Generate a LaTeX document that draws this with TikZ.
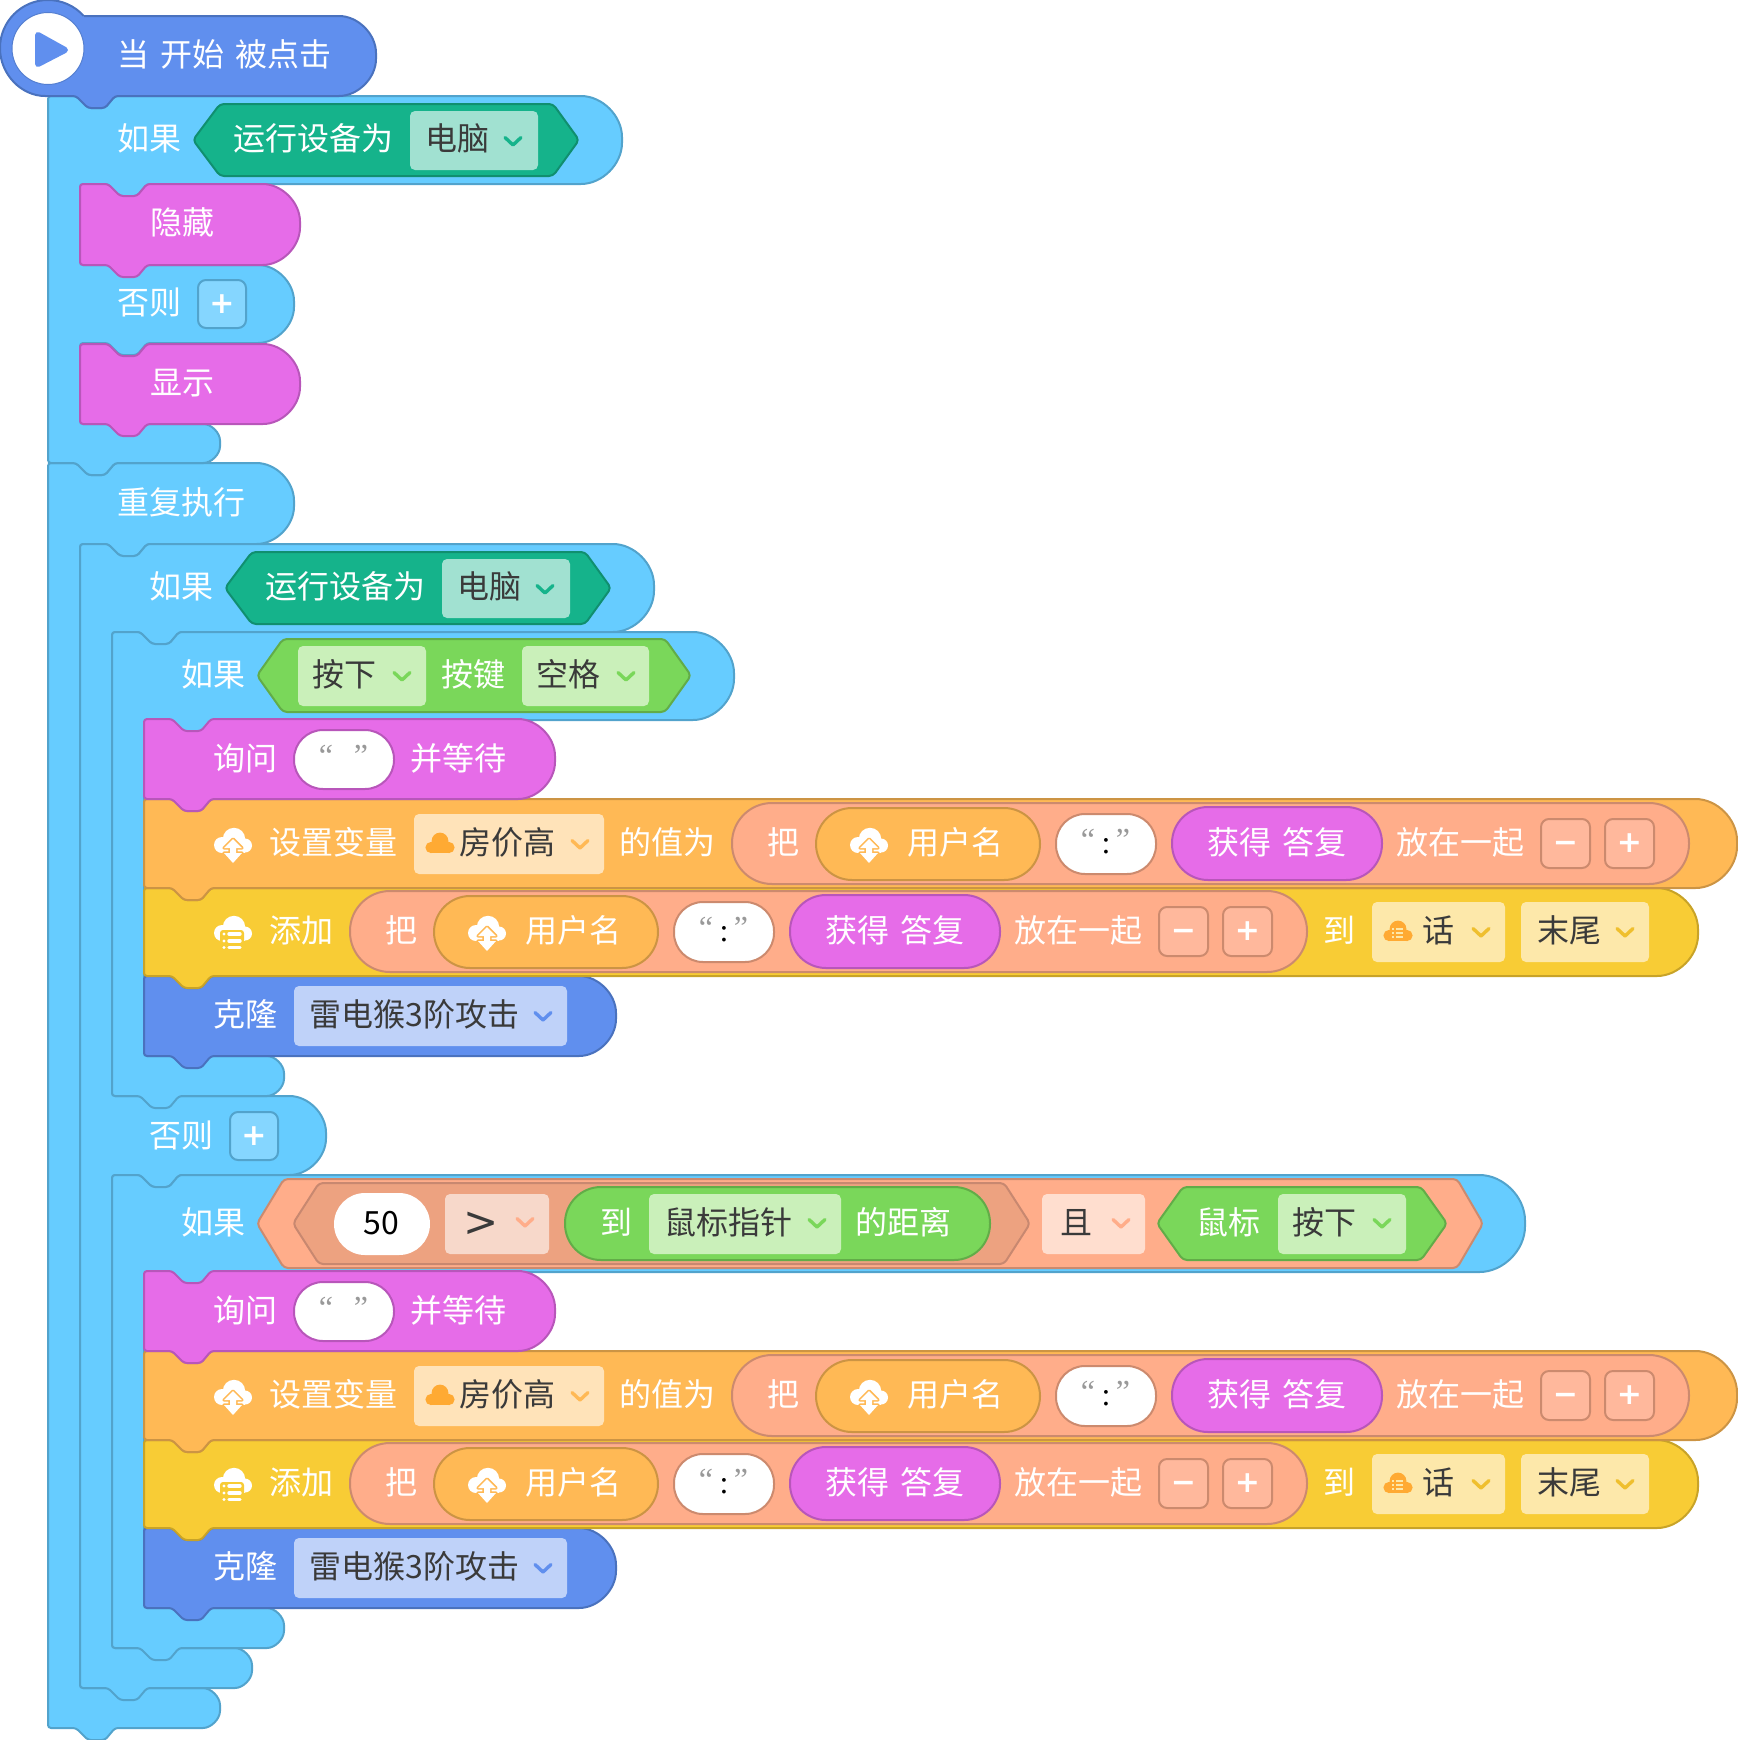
\documentclass[tikz,border=0pt]{standalone}
\usepackage{fontspec}
\newfontfamily\cjk{Noto Sans CJK SC}
\newfontfamily\dvs{DejaVu Sans}
\newfontfamily\lsr{Liberation Serif}
\definecolor{hatc}{HTML}{608FEE}\definecolor{hatb}{HTML}{4A72BE}
\definecolor{sky}{HTML}{66CCFF}\definecolor{skyb}{HTML}{52A3CC}
\definecolor{pinkc}{HTML}{E66CE8}\definecolor{pinkb}{HTML}{B856BA}
\definecolor{orangec}{HTML}{FFB955}\definecolor{orangeb}{HTML}{CC9444}
\definecolor{yel}{HTML}{F8CC35}\definecolor{yelb}{HTML}{C8A328}
\definecolor{salm}{HTML}{FFAD8A}\definecolor{salmb}{HTML}{CC8A6E}
\definecolor{grn}{HTML}{7AD75A}\definecolor{grnb}{HTML}{62AC48}
\definecolor{teal2}{HTML}{15B38B}\definecolor{tealb}{HTML}{108F6F}
\definecolor{ddteal}{HTML}{A1E1D1}\definecolor{ddgrn}{HTML}{CAF0BA}
\definecolor{ddorange}{HTML}{FFE3B9}\definecolor{ddyel}{HTML}{FDE8AA}
\definecolor{ddblue}{HTML}{BFD2F9}\definecolor{ddsalm}{HTML}{FFDECF}
\definecolor{ddsalmb}{HTML}{F7D8CA}\definecolor{inhex}{HTML}{EDA280}
\definecolor{inhexb}{HTML}{C88870}\definecolor{btns}{HTML}{FFB89C}
\definecolor{btnb}{HTML}{85D6FF}\definecolor{ink}{HTML}{3A3A3A}
\definecolor{quotec}{HTML}{999999}\definecolor{cloudc}{HTML}{FFAA33}
\definecolor{chevy}{HTML}{EFBF2E}
\tikzset{
 lbl/.style={anchor=west,inner sep=0pt,text height=14pt,text depth=2pt,font=\cjk\fontsize{16}{16}\selectfont},
 blk/.style n args={2}{fill=#1,draw=#2,line width=1pt,rounded corners=1.5pt,line join=round}
}
\newcounter{nd}
\newcommand\Lb[4][white]{\stepcounter{nd}\node[lbl,text=#1] (n\thend) at ({#2-0.5},#3) {#4};}
\newcommand\Wsp{ \hspace{1.8pt}}
\newcommand\Qt[3]{\stepcounter{nd}\node[anchor=base,inner sep=0pt,text=quotec,font=\lsr\fontsize{16}{16}\selectfont] (n\thend) at (#1,{#2+18}) {#3};}
\newcommand\Colon[2]{\stepcounter{nd}\node[anchor=base,inner sep=0pt,text=black,font=\lsr\fontsize{16}{16}\selectfont] (n\thend) at (#1,{#2+9}) {:};}
\newcommand\NotchT[2]{ -- ({#1+28},{#2}) -- ({#1+40},{#2+12}) -- ({#1+57},{#2+12}) -- ({#1+67},{#2}) }
\newcommand\BumpB[2]{ -- ({#1+67},{#2}) -- ({#1+57},{#2+12}) -- ({#1+40},{#2+12}) -- ({#1+28},{#2}) }
\newcommand\CapR[3]{ -- ({#1-(#3-#2)/2},{#2}) .. controls ({#1-(#3-#2)*.225},{#2}) and ({#1},{#2+(#3-#2)*.225}) .. ({#1},{(#2+#3)/2}) .. controls ({#1},{#3-(#3-#2)*.225}) and ({#1-(#3-#2)*.225},{#3}) .. ({#1-(#3-#2)/2},{#3}) }
\newcommand\Stack[6]{\draw[blk={#5}{#6}] (#1,#2) \NotchT{#1}{#2} \CapR{#3}{#2}{#4} \BumpB{#1}{#4} -- (#1,#4) -- cycle;}
\newcommand\Hex[8]{\draw[fill=#7,draw=#8,line width=1pt,rounded corners=2pt,line join=round] (#1,{(#5+#6)/2}) -- (#2,#5) -- (#3,#5) -- (#4,{(#5+#6)/2}) -- (#3,#6) -- (#2,#6) -- cycle;}
\newcommand\Dd[5]{\fill[#5,rounded corners=2.5pt] (#1,#2) rectangle (#3,#4);}
\newcommand\Chev[3]{\draw[#3,line width=1.7pt,line cap=round,line join=round] ({#1-8},{#2-3.5}) -- (#1,{#2+4}) -- ({#1+8},{#2-3.5});}
\newcommand\Pill[7]{\draw[fill=#5,draw=#6,line width=1pt,rounded corners=#7pt] (#1,#2) rectangle (#3,#4);}
\newcommand\Btn[6]{\draw[fill=#5,draw=#6,line width=1pt,rounded corners=4pt] (#1,#2) rectangle (#3,#4);}
\newcommand\Sym[3]{\stepcounter{nd}\node[anchor=base,inner sep=0pt,text=white,font=\dvs\bfseries\fontsize{15}{15}\selectfont] (n\thend) at (#1,{#2+9.4}) {#3};}
\newcommand\CloudShape{\fill[white] (1,-3) circle[radius=5.6pt] (-11,3) circle[radius=4pt] (12,3.5) circle[radius=3.5pt];\fill[white] (-11,0) rectangle (12,10.5);}
\newcommand\CloudUp[3]{\begin{scope}[shift={(#1,#2)}]\CloudShape
 \path[draw=#3,line width=1.6pt,line join=round] (-9,6) -- (0,-3) -- (9,6) -- (3,6) -- (3,11) -- (9,11) -- (0,21) -- (-9,11) -- (-3,11) -- (-3,6) -- cycle;
 \fill[white] (-9,6) -- (0,-3) -- (9,6) -- (3,6) -- (3,11) -- (9,11) -- (0,21) -- (-9,11) -- (-3,11) -- (-3,6) -- cycle;\end{scope}}
\newcommand\CloudList[3]{\begin{scope}[shift={(#1,#2)}]\CloudShape
 \fill[#3,rounded corners=1.5pt] (-13,0) rectangle (11,21);
 \foreach \yy in {4,11,17.5}{\draw[white,line width=1.7pt,line cap=round] (-9,\yy) -- (-9,\yy) (-4,\yy) -- (7,\yy);}\end{scope}}
\newcommand\SCloud[2]{\begin{scope}[shift={(#1,#2)}]\fill[cloudc] (0,-1) circle[radius=4.2pt] (-9,5.5) circle[radius=2.8pt] (9,5.5) circle[radius=2.8pt];\fill[cloudc] (-9,1) rectangle (9,11);\end{scope}}
\newcommand\SCloudList[2]{\SCloud{#1}{#2}\begin{scope}[shift={(#1,#2)}]\foreach \yy in {-1,3,7}{\draw[ddyel,line width=.7pt] (-6,\yy) -- (-4,\yy) (-2,\yy) -- (5,\yy);}\end{scope}}
\newcommand\JoinBlock[2]{\begin{scope}[shift={(#1,#2)}]
 \Pill{732}{803}{1689}{884}{salm}{salmb}{20}
 \Lb{768}{842}{把}
 \Pill{816}{808}{1040}{880}{orangec}{orangeb}{18}
 \CloudUp{869}{842}{orangec}
 \Lb{908}{842}{用户名}
 \Pill{1056}{814}{1156}{874}{white}{salmb}{14.5}
 \Qt{1088}{832}{“}\Qt{1123}{832}{”}\Colon{1106}{844}
 \Pill{1172}{807}{1382}{880}{pinkc}{pinkb}{18}
 \Lb{1208}{842}{获得\Wsp 答复}
 \Lb{1397}{842}{放在一起}
 \Btn{1541}{819}{1590}{868}{btns}{salmb}
 \Sym{1565.5}{843.5}{−}
 \Btn{1605}{819}{1654}{868}{btns}{salmb}
 \Sym{1629.5}{843.5}{+}
\end{scope}}
\newcommand\Group[1]{\begin{scope}[shift={(0,#1)}]
 % clone
 \Stack{144}{976}{616}{1056}{hatc}{hatb}
 \Lb{214}{1014}{克隆}
 \Dd{294}{986}{567}{1046}{ddblue}
 \Lb[ink]{310}{1014}{雷电猴3阶攻击}
 \Chev{543}{1016}{hatc}
 % add
 \Stack{144}{888}{1698}{976}{yel}{yelb}
 \CloudList{233}{930}{yel}
 \Lb{270}{930}{添加}
 \JoinBlock{-382}{88}
 \Lb{1324}{930}{到}
 \Dd{1372}{902}{1505}{962}{ddyel}
 \SCloudList{1398}{930}
 \Lb[ink]{1423}{930}{话}
 \Chev{1481}{932}{chevy}
 \Dd{1521}{902}{1649}{962}{ddyel}
 \Lb[ink]{1538}{930}{末尾}
 \Chev{1625}{932}{chevy}
 % set
 \Stack{144}{799}{1737}{888}{orangec}{orangeb}
 \CloudUp{233}{842}{orangec}
 \Lb{270}{842}{设置变量}
 \Dd{414}{814}{604}{874}{ddorange}
 \SCloud{440}{842}
 \Lb[ink]{460}{842}{房价高}
 \Chev{580}{844}{orangec}
 \Lb{620}{842}{的值为}
 \JoinBlock{0}{0}
 % ask
 \Stack{144}{719}{555}{799}{pinkc}{pinkb}
 \Lb{214}{758}{询问}
 \Pill{294}{730}{394}{789}{white}{pinkb}{14.5}
 \Qt{326}{748}{“}\Qt{361}{748}{”}
 \Lb{411}{758}{并等待}
\end{scope}}
\begin{document}
\begin{tikzpicture}[x=0.5pt,y=-0.5pt]
\useasboundingbox (0,0) rectangle (1737,1740);
% forever
\draw[blk={sky}{skyb}] (48,463) \NotchT{48}{463} \CapR{294}{463}{544} \BumpB{80}{544} -- (80,544) -- (80,1688) \CapR{220}{1688}{1728} \BumpB{48}{1728} -- (48,1728) -- cycle;
\Lb{118}{502}{重复执行}
% if 2 with else
\draw[blk={sky}{skyb}] (80,544) \NotchT{80}{544} \CapR{654}{544}{632} \BumpB{112}{632} -- (112,632) -- (112,1096) \CapR{326}{1096}{1175} \BumpB{112}{1175} -- (112,1175) -- (112,1648) \CapR{252}{1648}{1688} \BumpB{80}{1688} -- (80,1688) -- cycle;
\Lb{150}{586}{如果}
\Hex{225}{252}{585}{611}{552}{624}{teal2}{tealb}
\Lb{266}{586}{运行设备为}
\Dd{442}{559}{570}{618}{ddteal}
\Lb[ink]{458}{586}{电脑}
\Chev{545}{589}{teal2}
\Lb{150}{1135}{否则}
\Btn{230}{1112}{278}{1160}{btnb}{skyb}
\Sym{254}{1136}{+}
% if 4
\draw[blk={sky}{skyb}] (112,1175) \NotchT{112}{1175} \CapR{1525}{1175}{1272} \BumpB{144}{1272} -- (144,1272) -- (144,1608) \CapR{284}{1608}{1648} \BumpB{112}{1648} -- (112,1648) -- cycle;
\Lb{182}{1222}{如果}
\Hex{257}{284}{1457}{1483}{1179}{1268}{salm}{salmb}
\Hex{293}{319}{1004}{1030}{1183}{1264}{inhex}{inhexb}
\Pill{335}{1194}{429}{1254}{white}{white}{15}
\stepcounter{nd}\node[lbl,anchor=center,text=black] (n\thend) at (381,1222) {50};
\Dd{445}{1194}{549}{1254}{ddsalmb}
\stepcounter{nd}\node[anchor=center,inner sep=0pt,text=ink,font=\dvs\fontsize{21}{21}\selectfont] (n\thend) at (481,1224) {>};
\Chev{525}{1222}{salm}
\Pill{565}{1187}{990}{1260}{grn}{grnb}{18}
\Lb{601}{1222}{到}
\Dd{649}{1194}{841}{1254}{ddgrn}
\Lb[ink]{665}{1222}{鼠标指针}
\Chev{817}{1223}{grn}
\Lb{856}{1222}{的距离}
\Dd{1042}{1194}{1145}{1254}{ddsalm}
\Lb[ink]{1061}{1222}{且}
\Chev{1121}{1223}{salm}
\Hex{1157}{1183}{1421}{1447}{1187}{1260}{grn}{grnb}
\Lb{1197}{1222}{鼠标}
\Dd{1278}{1194}{1406}{1254}{ddgrn}
\Lb[ink]{1293}{1222}{按下}
\Chev{1382}{1223}{grn}
\Group{552}
% if 3
\draw[blk={sky}{skyb}] (112,632) \NotchT{112}{632} \CapR{734}{632}{720} \BumpB{144}{720} -- (144,720) -- (144,1056) \CapR{284}{1056}{1096} \BumpB{112}{1096} -- (112,1096) -- cycle;
\Lb{182}{674}{如果}
\Hex{257}{283}{665}{691}{639}{712}{grn}{grnb}
\Dd{298}{646}{426}{706}{ddgrn}
\Lb[ink]{313}{674}{按下}
\Chev{402}{676}{grn}
\Lb{442}{674}{按键}
\Dd{522}{646}{649}{706}{ddgrn}
\Lb[ink]{537}{674}{空格}
\Chev{626}{676}{grn}
\Group{0}
% if 1
\draw[blk={sky}{skyb}] (48,96) \NotchT{48}{96} \CapR{622}{96}{184} \BumpB{80}{184} -- (80,184) -- (80,265) \CapR{294}{265}{343} \BumpB{80}{343} -- (80,343) -- (80,424) \CapR{220}{424}{463} \BumpB{48}{463} -- (48,463) -- cycle;
\Lb{118}{138}{如果}
\Hex{193}{220}{553}{579}{104}{176}{teal2}{tealb}
\Lb{234}{138}{运行设备为}
\Dd{410}{111}{538}{170}{ddteal}
\Lb[ink]{426}{138}{电脑}
\Chev{513}{141}{teal2}
\Lb{118}{302}{否则}
\Btn{198}{280}{246}{328}{btnb}{skyb}
\Sym{222}{304}{+}
\Stack{80}{344}{300}{424}{pinkc}{pinkb}
\Lb{151}{382}{显示}
\Stack{80}{184}{300}{265}{pinkc}{pinkb}
\Lb{151}{222}{隐藏}
% hat
\draw[blk={hatc}{hatb}] (84,16) \CapR{376}{16}{96} \BumpB{48}{96} -- (48,96) arc[start angle=90,end angle=318,radius=48];
\fill[white] (48,48.5) circle[radius=18pt];
\draw[hatb!60!hatc,line width=.5pt] (48,48.5) circle[radius=18pt];
\fill[hatc,draw=hatc,line width=3pt,line join=round] (38,35) -- (65,50) -- (38,64) -- cycle;
\Lb{118}{54}{当\Wsp 开始\Wsp 被点击}
\end{tikzpicture}
\end{document}
